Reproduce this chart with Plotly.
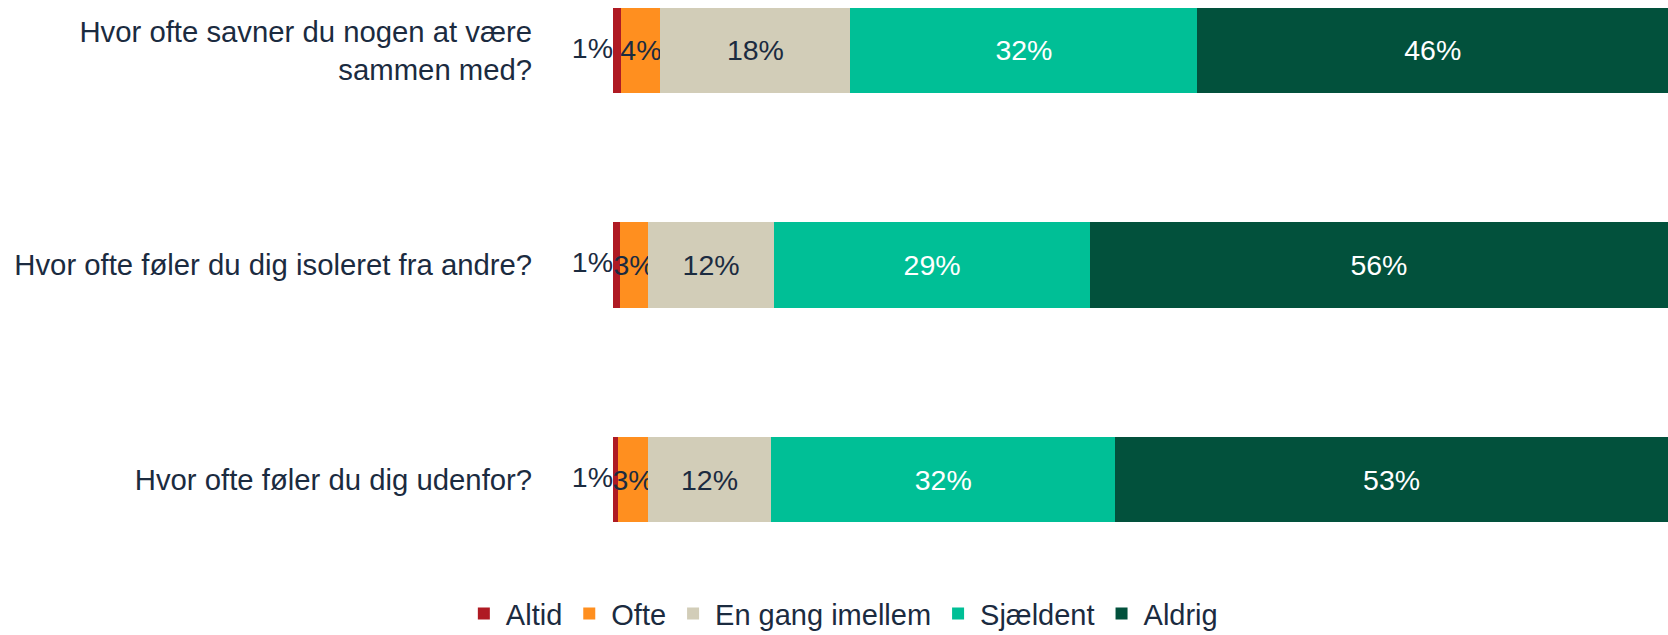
import plotly.graph_objects as go

questions = [
    "Hvor ofte savner du nogen at være<br>sammen med?",
    "Hvor ofte føler du dig isoleret fra andre?",
    "Hvor ofte føler du dig udenfor?",
]
series_names = ["Altid", "Ofte", "En gang imellem", "Sjældent", "Aldrig"]
colors = ["#AF1A23", "#FF8F1F", "#D2CDB8", "#00BF96", "#02513C"]
text_colors = ["#1B2B40", "#1B2B40", "#1B2B40", "#FFFFFF", "#FFFFFF"]

# segment widths (share of each bar, %)
altid = [0.8, 0.7, 0.5]
ofte = [3.7, 2.6, 2.8]
en_gang = [18.0, 12.0, 11.7]
sjaeldent = [32.9, 29.9, 32.6]
aldrig = [44.6, 54.8, 52.4]

# printed labels
altid_lbl = ["1%", "1%", "1%"]
ofte_lbl = ["4%", "3%", "3%"]
en_gang_lbl = ["18%", "12%", "12%"]
sjaeldent_lbl = ["32%", "29%", "32%"]
aldrig_lbl = ["46%", "56%", "53%"]

values = [altid, ofte, en_gang, sjaeldent, aldrig]
labels = [altid_lbl, ofte_lbl, en_gang_lbl, sjaeldent_lbl, aldrig_lbl]

FONT = "Liberation Sans, Arial, sans-serif"
NAVY = "#1B2B40"

fig = go.Figure()
for i, name in enumerate(series_names):
    fig.add_trace(go.Bar(
        x=values[i], y=questions, orientation="h", name=name,
        marker=dict(color=colors[i], line=dict(width=0)),
        width=0.4,
        text=None if i == 0 else labels[i],
        textposition="inside", insidetextanchor="middle",
        constraintext="none", textangle=0,
        textfont=dict(family=FONT, size=28.5, color=text_colors[i]),
        hoverinfo="skip",
    ))

# outside labels for the first (thin) segment
fig.add_trace(go.Scatter(
    x=[0] * len(questions), y=questions, mode="text", text=altid_lbl,
    textposition="middle left",
    textfont=dict(family=FONT, size=28.5, color=NAVY),
    showlegend=False, hoverinfo="skip", cliponaxis=False,
))

fig.update_layout(
    barmode="stack",
    width=1668, height=635,
    margin=dict(l=613, r=0, t=0, b=75, autoexpand=False),
    paper_bgcolor="white", plot_bgcolor="white",
    font=dict(family=FONT, color=NAVY, size=29),
    showlegend=True,
    legend=dict(
        orientation="h", xref="container", yref="paper",
        x=0.505, xanchor="center", y=-0.096, yanchor="middle",
        font=dict(family=FONT, size=29, color=NAVY),
        itemwidth=34, traceorder="normal",
        bgcolor="rgba(0,0,0,0)",
    ),
    xaxis=dict(range=[0, 100], visible=False, fixedrange=True),
    yaxis=dict(
        type="category", categoryorder="array", categoryarray=questions,
        range=[2.375, -0.235], automargin=False,
        showgrid=False, zeroline=False, showline=False,
        ticks="outside", ticklen=74, tickcolor="rgba(0,0,0,0)",
        tickfont=dict(family=FONT, size=29.3, color=NAVY),
    ),
)

fig.write_html(
    "out.html",
    config={"displayModeBar": False},
    post_script="document.body.style.margin='0';document.body.style.overflow='hidden';",
)
